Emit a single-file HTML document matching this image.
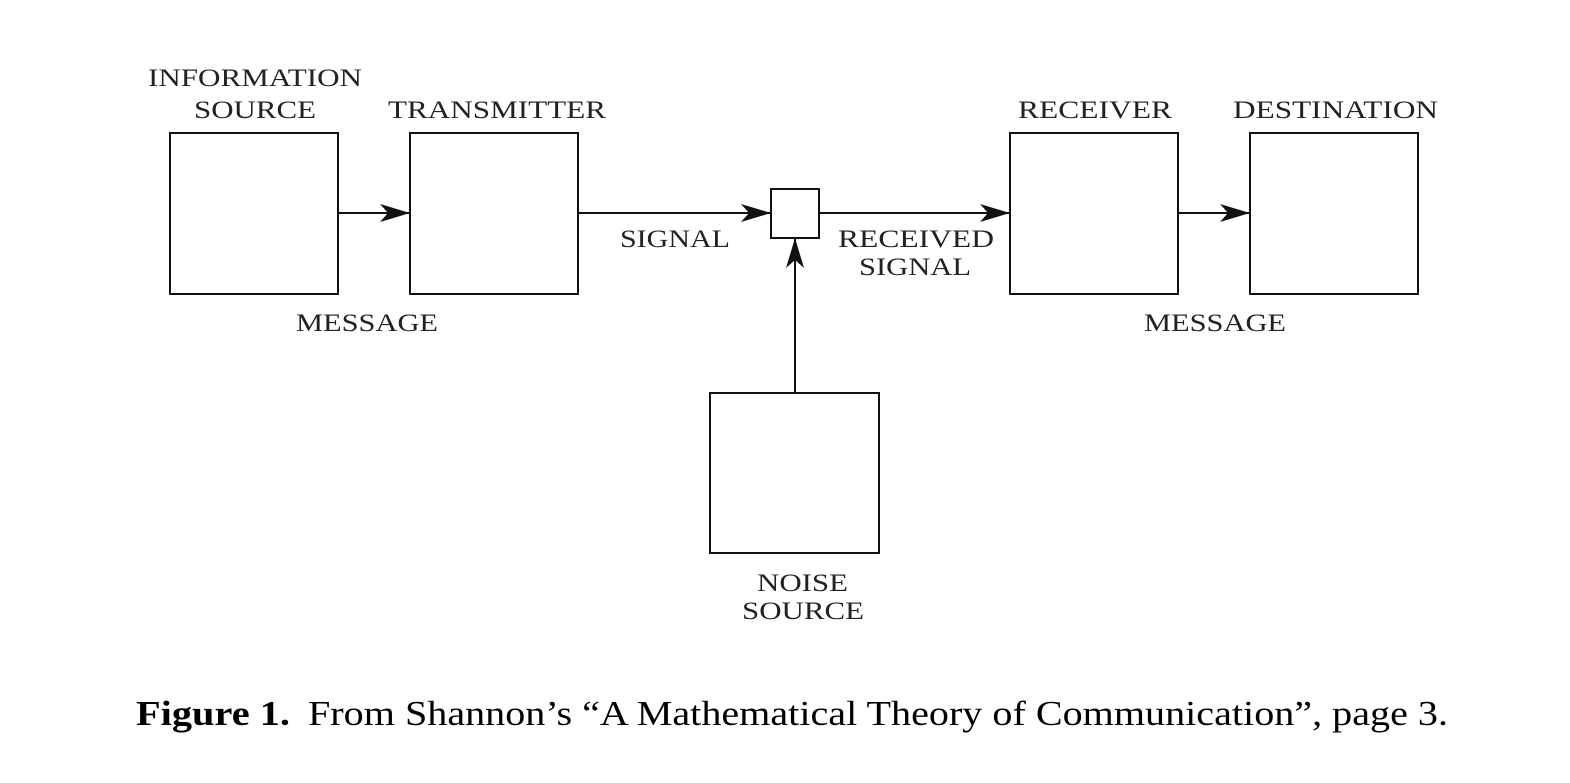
<!DOCTYPE html>
<html><head><style>html,body{margin:0;padding:0;background:#fff}</style></head><body>
<svg width="1570" height="778" viewBox="0 0 1570 778" xmlns="http://www.w3.org/2000/svg">
<defs>
<marker id="a" markerWidth="32" markerHeight="20" refX="30" refY="10" orient="auto" markerUnits="userSpaceOnUse">
<path d="M0,1 L30,10 L0,19 L8,10 Z" fill="#111"/>
</marker>
</defs>
<g fill="none" stroke="#111" stroke-width="2">
<rect x="170" y="133" width="168" height="161"/>
<rect x="410" y="133" width="168" height="161"/>
<rect x="771" y="189" width="48" height="49"/>
<rect x="1010" y="133" width="168" height="161"/>
<rect x="1250" y="133" width="168" height="161"/>
<rect x="710" y="393" width="169" height="160"/>
<line x1="338" y1="213" x2="410" y2="213" marker-end="url(#a)"/>
<line x1="578" y1="213" x2="771" y2="213" marker-end="url(#a)"/>
<line x1="819" y1="213" x2="1010" y2="213" marker-end="url(#a)"/>
<line x1="1178" y1="213" x2="1250" y2="213" marker-end="url(#a)"/>
<line x1="795" y1="393" x2="795" y2="238" marker-end="url(#a)"/>
</g>
<g font-family="Liberation Serif, serif" font-size="25" fill="#222" lengthAdjust="spacingAndGlyphs">
<text x="148" y="86" textLength="214" lengthAdjust="spacingAndGlyphs">INFORMATION</text>
<text x="194" y="118" textLength="122" lengthAdjust="spacingAndGlyphs">SOURCE</text>
<text x="388" y="118" textLength="218" lengthAdjust="spacingAndGlyphs">TRANSMITTER</text>
<text x="1018" y="118" textLength="154" lengthAdjust="spacingAndGlyphs">RECEIVER</text>
<text x="1233" y="118" textLength="205" lengthAdjust="spacingAndGlyphs">DESTINATION</text>
<text x="296" y="331" textLength="142" lengthAdjust="spacingAndGlyphs">MESSAGE</text>
<text x="1144" y="331" textLength="142" lengthAdjust="spacingAndGlyphs">MESSAGE</text>
<text x="620" y="247" textLength="110" lengthAdjust="spacingAndGlyphs">SIGNAL</text>
<text x="838" y="247" textLength="156" lengthAdjust="spacingAndGlyphs">RECEIVED</text>
<text x="859" y="275" textLength="112" lengthAdjust="spacingAndGlyphs">SIGNAL</text>
<text x="757" y="591" textLength="91" lengthAdjust="spacingAndGlyphs">NOISE</text>
<text x="742" y="619" textLength="122" lengthAdjust="spacingAndGlyphs">SOURCE</text>
</g>
<g font-family="Liberation Serif, serif" font-size="35" fill="#000">
<text x="136" y="725" font-weight="bold" textLength="154" lengthAdjust="spacingAndGlyphs">Figure 1.</text>
<text x="308" y="725" textLength="1140" lengthAdjust="spacingAndGlyphs">From Shannon’s “A Mathematical Theory of Communication”, page 3.</text>
</g>
</svg>
</body></html>
